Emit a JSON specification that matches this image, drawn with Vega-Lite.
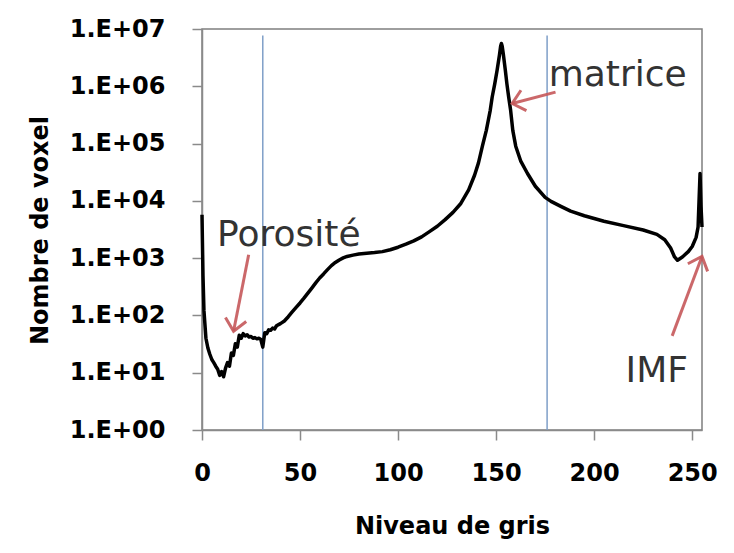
{
  "$schema": "https://vega.github.io/schema/vega-lite/v6.json",
  "width": 500,
  "height": 401,
  "autosize": {"type": "none"},
  "padding": {"left": 202, "top": 29, "right": 32, "bottom": 123},
  "background": "white",
  "config": {
    "view": {"stroke": "#7f7f7f", "strokeWidth": 1.5},
    "font": "DejaVu Sans"
  },
  "encoding": {
    "x": {
      "field": "x",
      "type": "quantitative",
      "scale": {"domain": [0, 255], "nice": false, "zero": false},
      "axis": {
        "values": [0, 50, 100, 150, 200, 250],
        "title": "Niveau de gris",
        "grid": false,
        "labelFont": "DejaVu Sans",
        "labelFontWeight": "bold",
        "labelFontSize": 24,
        "labelColor": "black",
        "labelPadding": 21,
        "labelFlush": false,
        "labelOverlap": false,
        "tickSize": 10,
        "tickColor": "#8a8a8a",
        "tickWidth": 1.5,
        "domainColor": "#8a8a8a",
        "domainWidth": 1.5,
        "titleFont": "DejaVu Sans",
        "titleFontWeight": "bold",
        "titleFontSize": 24,
        "titleColor": "black",
        "titleBaseline": "top",
        "titleY": 84
      }
    },
    "y": {
      "field": "y",
      "type": "quantitative",
      "scale": {"type": "log", "domain": [1, 10000000], "nice": false},
      "axis": {
        "values": [1, 10, 100, 1000, 10000, 100000, 1000000, 10000000],
        "labelExpr": "'1.E+0' + format(log(datum.value)/LN10, '.0f')",
        "title": "Nombre de voxel",
        "grid": false,
        "labelFont": "DejaVu Sans",
        "labelFontWeight": "bold",
        "labelFontSize": 24,
        "labelColor": "black",
        "labelPadding": 27,
        "labelOverlap": false,
        "labelBaseline": "middle",
        "tickSize": 10,
        "tickColor": "#8a8a8a",
        "tickWidth": 1.5,
        "domainColor": "#8a8a8a",
        "domainWidth": 1.5,
        "titleFont": "DejaVu Sans",
        "titleFontWeight": "bold",
        "titleFontSize": 24,
        "titleColor": "black",
        "titleAngle": -90,
        "titleAlign": "center",
        "titleBaseline": "middle",
        "titleX": -162,
        "titleY": 201
      }
    }
  },
  "layer": [
    {
      "data": {"values": [{"x": 31, "y": 1, "y2": 7700000}, {"x": 176, "y": 1, "y2": 7700000}]},
      "mark": {"type": "rule", "color": "#7f9fc8", "strokeWidth": 1.5},
      "encoding": {"y2": {"field": "y2"}}
    },
    {
      "data": {"values": [
        {"x": 0, "y": 5700}, {"x": 0.5, "y": 500}, {"x": 1, "y": 120}, {"x": 2, "y": 40},
        {"x": 3, "y": 27}, {"x": 4, "y": 21}, {"x": 5, "y": 17}, {"x": 6, "y": 15},
        {"x": 7, "y": 13}, {"x": 8, "y": 11.5}, {"x": 9, "y": 9}, {"x": 10, "y": 10.5},
        {"x": 11, "y": 8.5}, {"x": 12, "y": 12}, {"x": 13, "y": 15}, {"x": 14, "y": 13},
        {"x": 15, "y": 22}, {"x": 16, "y": 20}, {"x": 17, "y": 32}, {"x": 18, "y": 28},
        {"x": 19, "y": 45}, {"x": 20, "y": 40}, {"x": 21, "y": 48}, {"x": 22, "y": 44},
        {"x": 23, "y": 46}, {"x": 24, "y": 42}, {"x": 25, "y": 43}, {"x": 26, "y": 40},
        {"x": 27, "y": 41}, {"x": 28, "y": 39}, {"x": 29, "y": 40}, {"x": 30, "y": 38},
        {"x": 31, "y": 28}, {"x": 32, "y": 50}, {"x": 33, "y": 48}, {"x": 34, "y": 56},
        {"x": 35, "y": 55}, {"x": 36, "y": 60}, {"x": 37, "y": 58}, {"x": 38, "y": 66},
        {"x": 40, "y": 72}, {"x": 42, "y": 80}, {"x": 44, "y": 95}, {"x": 46, "y": 115},
        {"x": 48, "y": 138}, {"x": 50, "y": 165}, {"x": 52, "y": 200}, {"x": 54, "y": 245},
        {"x": 56, "y": 300}, {"x": 58, "y": 370}, {"x": 60, "y": 450}, {"x": 62, "y": 530},
        {"x": 64, "y": 630}, {"x": 66, "y": 740}, {"x": 68, "y": 840}, {"x": 70, "y": 930},
        {"x": 72, "y": 1010}, {"x": 74, "y": 1070}, {"x": 77, "y": 1130}, {"x": 80, "y": 1180},
        {"x": 84, "y": 1220}, {"x": 88, "y": 1250}, {"x": 92, "y": 1300}, {"x": 96, "y": 1400},
        {"x": 100, "y": 1550}, {"x": 104, "y": 1750}, {"x": 108, "y": 2000}, {"x": 112, "y": 2350},
        {"x": 116, "y": 2900}, {"x": 120, "y": 3600}, {"x": 124, "y": 4700}, {"x": 128, "y": 6300},
        {"x": 132, "y": 9000}, {"x": 136, "y": 15500}, {"x": 139, "y": 28000}, {"x": 141, "y": 46000},
        {"x": 143, "y": 90000}, {"x": 145, "y": 170000}, {"x": 147, "y": 380000}, {"x": 148, "y": 650000},
        {"x": 149.3, "y": 1100000}, {"x": 150.5, "y": 1900000}, {"x": 151.7, "y": 3500000}, {"x": 152.3, "y": 5000000},
        {"x": 152.7, "y": 5600000}, {"x": 153.1, "y": 5000000}, {"x": 153.7, "y": 3600000}, {"x": 154.7, "y": 1900000},
        {"x": 155.5, "y": 1100000}, {"x": 156.4, "y": 650000}, {"x": 157.4, "y": 380000}, {"x": 158.5, "y": 170000},
        {"x": 160, "y": 90000}, {"x": 162.5, "y": 50000}, {"x": 166, "y": 30000}, {"x": 170, "y": 18000},
        {"x": 175, "y": 11500}, {"x": 178, "y": 9800}, {"x": 183, "y": 8000},
        {"x": 188, "y": 6600}, {"x": 195, "y": 5500}, {"x": 205, "y": 4400}, {"x": 215, "y": 3700},
        {"x": 225, "y": 3100}, {"x": 232, "y": 2600}, {"x": 236, "y": 2100}, {"x": 239, "y": 1500},
        {"x": 241, "y": 1050}, {"x": 242.5, "y": 920}, {"x": 245, "y": 1050}, {"x": 248, "y": 1300},
        {"x": 250, "y": 1600}, {"x": 252, "y": 2300}, {"x": 253, "y": 3500}, {"x": 254, "y": 30000},
        {"x": 254.5, "y": 8000}, {"x": 255, "y": 3500}
      ]},
      "mark": {"type": "line", "color": "black", "strokeWidth": 3.5, "strokeJoin": "round"}
    },
    {
      "data": {"values": [
        {"x": 23.8, "y": 1150, "x2": 16.1, "y2": 53},
        {"x": 180.3, "y": 790000, "x2": 158.2, "y2": 500000},
        {"x": 239.8, "y": 44, "x2": 255, "y2": 1070}
      ]},
      "mark": {"type": "rule", "color": "#c5585a", "strokeWidth": 3, "opacity": 0.9},
      "encoding": {"x2": {"field": "x2"}, "y2": {"field": "y2"}}
    },
    {
      "data": {"values": [{"x": 16.1, "y": 53}]},
      "mark": {"type": "point", "shape": "M-0.8,0.9L0,0L0.8,0.9", "filled": false, "stroke": "#c5585a", "strokeWidth": 3, "opacity": 0.9, "size": 700, "angle": 191}
    },
    {
      "data": {"values": [{"x": 158.2, "y": 500000}]},
      "mark": {"type": "point", "shape": "M-0.8,0.9L0,0L0.8,0.9", "filled": false, "stroke": "#c5585a", "strokeWidth": 3, "opacity": 0.9, "size": 700, "angle": 255}
    },
    {
      "data": {"values": [{"x": 255, "y": 1070}]},
      "mark": {"type": "point", "shape": "M-0.8,0.9L0,0L0.8,0.9", "filled": false, "stroke": "#c5585a", "strokeWidth": 3, "opacity": 0.9, "size": 700, "angle": 21}
    },
    {
      "data": {"values": [
        {"x": 7.7, "y": 1650, "label": "Porosité"},
        {"x": 176.8, "y": 1000000, "label": "matrice"},
        {"x": 216, "y": 6.8, "label": "IMF"}
      ]},
      "mark": {"type": "text", "align": "left", "baseline": "alphabetic", "font": "DejaVu Sans", "fontSize": 36, "color": "#333333"},
      "encoding": {"text": {"field": "label"}}
    }
  ]
}
